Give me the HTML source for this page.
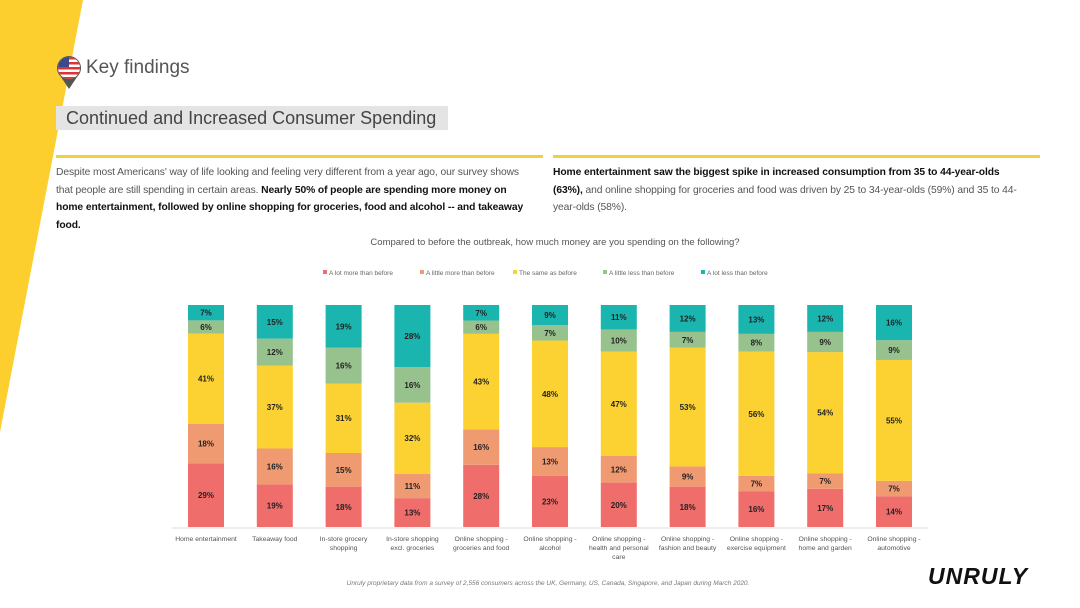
<!DOCTYPE html>
<html><head><meta charset="utf-8"><style>
body{margin:0;width:1080px;height:608px;overflow:hidden;background:#fff;font-family:"Liberation Sans",sans-serif;position:relative}
.abs{position:absolute}
.p{font-size:10.3px;line-height:17.5px;color:#555;letter-spacing:-0.1px}
.p b{color:#111}
</style></head><body>
<svg class="abs" style="left:0;top:0" width="1080" height="608"><polygon points="0,0 83,0 0,432" fill="#fccf2e"/></svg>
<svg class="abs" style="top:55px;left:56px" width="28" height="36">
<path d="M13,34 L5,22 A12,12 0 1 1 21,22 Z" fill="#555"/>
<clipPath id="c"><circle cx="13" cy="13" r="11"/></clipPath>
<g clip-path="url(#c)"><rect x="0" y="0" width="28" height="28" fill="#fff"/>
<rect x="0" y="2" width="28" height="2.5" fill="#d33"/><rect x="0" y="7" width="28" height="2.5" fill="#d33"/><rect x="0" y="12" width="28" height="2.5" fill="#d33"/><rect x="0" y="17" width="28" height="2.5" fill="#d33"/><rect x="0" y="22" width="28" height="2.5" fill="#d33"/>
<rect x="0" y="0" width="13" height="12" fill="#3a4a8a"/></g></svg>
<div class="abs" style="left:86px;top:57px;font-size:19px;color:#555">Key findings</div>
<div class="abs" style="left:56px;top:106px;width:392px;height:24px;background:#e4e4e4;font-size:18px;color:#444;line-height:24px;padding-left:10px;box-sizing:border-box">Continued and Increased Consumer Spending</div>
<div class="abs" style="left:56px;top:155px;width:487px;height:3px;background:#f2cf3b"></div>
<div class="abs" style="left:553px;top:155px;width:487px;height:3px;background:#f2cf3b"></div>
<div class="abs p" style="left:56px;top:164px;width:475px">Despite most Americans' way of life looking and feeling very different from a year ago, our survey shows that people are still spending in certain areas. <b>Nearly 50% of people are spending more money on home entertainment, followed by online shopping for groceries, food and alcohol -- and takeaway food.</b></div>
<div class="abs p" style="left:553px;top:164px;width:468px"><b>Home entertainment saw the biggest spike in increased consumption from 35 to 44-year-olds (63%),</b> and online shopping for groceries and food was driven by 25 to 34-year-olds (59%) and 35 to 44-year-olds (58%).</div>
<div class="abs" style="left:0;width:1110px;top:237px;text-align:center;font-size:9.5px;color:#555">Compared to before the outbreak, how much money are you spending on the following?</div>
<svg id="chart" class="abs" style="left:0;top:0" width="1080" height="608"></svg>
<div class="abs" style="left:0;width:1096px;top:580px;text-align:center;font-size:6.5px;font-style:italic;color:#777">Unruly proprietary data from a survey of 2,556 consumers across the UK, Germany, US, Canada, Singapore, and Japan during March 2020.</div>
<div class="abs" style="left:928px;top:563px;font-size:23px;font-weight:900;font-style:italic;color:#111;letter-spacing:1px">UNRULY</div>
<script>
const categories=["Home entertainment","Takeaway food","In-store grocery shopping","In-store shopping excl. groceries","Online shopping groceries and food","Online shopping - alcohol","Online shopping - health and personal care","Online shopping - fashion and beauty","Online shopping - exercise equipment","Online shopping - home and garden","Online shopping - automotive"];
const catLines=[["Home entertainment"],["Takeaway food"],["In-store grocery","shopping"],["In-store shopping","excl. groceries"],["Online shopping -","groceries and food"],["Online shopping -","alcohol"],["Online shopping -","health and personal","care"],["Online shopping -","fashion and beauty"],["Online shopping -","exercise equipment"],["Online shopping -","home and garden"],["Online shopping -","automotive"]];
const seriesNames=["A lot more than before","A little more than before","The same as before","A little less than before","A lot less than before"];
const lotMore=[29,19,18,13,28,23,20,18,16,17,14];
const littleMore=[18,16,15,11,16,13,12,9,7,7,7];
const same=[41,37,31,32,43,48,47,53,56,54,55];
const littleLess=[6,12,16,16,6,7,10,7,8,9,9];
const lotLess=[7,15,19,28,7,9,11,12,13,12,16];
const colors=["#ef6d6b","#f09a72","#fcd233","#97c28e","#1bb5b0"];
const svg=document.getElementById('chart');const NS="http://www.w3.org/2000/svg";
const series=[lotMore,littleMore,same,littleLess,lotLess];
const x0=206,step=68.8,bw=36,yB=527,H=222;
const xPos=i=>x0+i*step;
function mk(t,a,p){const e=document.createElementNS(NS,t);for(const k in a)e.setAttribute(k,a[k]);(p||svg).appendChild(e);return e;}
const ax=mk('line',{x1:172,x2:928,y1:yB+1,y2:yB+1,stroke:'#ddd','stroke-width':1});


categories.forEach((c,i)=>{
  const tot=series.reduce((s,a)=>s+a[i],0);let y=yB;
  series.forEach((arr,j)=>{
    const h=arr[i]/tot*H;y-=h;
    const r=mk('rect',{x:xPos(i)-bw/2,y:y,width:bw,height:h,fill:colors[j]});
    
    
    const t=mk('text',{x:xPos(i),y:y+h/2+3,'text-anchor':'middle','font-size':'8px','font-weight':'bold',fill:'#222'});
    t.textContent=arr[i]+'%';
    
    
  });
  const tl=mk('text',{x:xPos(i),y:541,'text-anchor':'middle','font-size':'6.8px',fill:'#555'});
  
  
  catLines[i].forEach((l,k)=>{const ts=mk('tspan',{x:xPos(i),dy:k?9:0},tl);ts.textContent=l;});
});
const lx=[323,420,513,603,701];
seriesNames.forEach((n,j)=>{
  const g=mk('g',{});
  
  
  mk('rect',{x:lx[j],y:270,width:4,height:4,fill:colors[j]},g);
  const t=mk('text',{x:lx[j]+6,y:275,'font-size':'6.5px',fill:'#666'},g);t.textContent=n;
});
</script>
</body></html>
